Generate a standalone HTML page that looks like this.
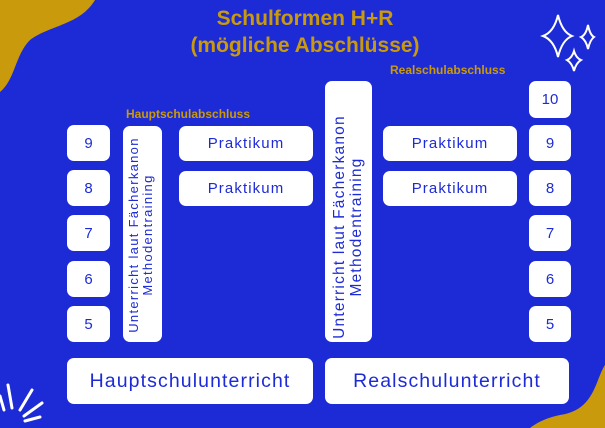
<!DOCTYPE html>
<html><head><meta charset="utf-8"><style>
body{margin:0;width:605px;height:428px;overflow:hidden;background:#1d2bd6;position:relative;font-family:"Liberation Sans","DejaVu Sans",sans-serif}
.b{position:absolute;background:#fff;border-radius:7px;color:#1d2bd6;display:flex;align-items:center;justify-content:center}
.n{font-size:15px}
.p{font-size:15px;letter-spacing:1.1px}
.g{position:absolute;color:#c99a0c;font-weight:bold;white-space:nowrap}
.v{position:absolute;transform:rotate(-90deg);transform-origin:center;text-align:center;color:#1d2bd6;white-space:nowrap;line-height:1.1}
</style></head><body>
<svg width="605" height="428" style="position:absolute;left:0;top:0">
<path d="M0 0 L95 0 C80 25 50 25 30 40 C15 55 15 80 0 92 Z" fill="#c99a0c"/>
<path d="M605 365 C595 380 595 410 560 415 C545 418 535 424 530 428 L605 428 Z" fill="#c99a0c"/>
<g fill="none" stroke="#fff" stroke-width="2">
<path d="M558 15 Q562 32 572 36 Q562 40 558 57 Q554 40 543 36 Q554 32 558 15Z"/>
<path d="M588 25 Q590 35 594 37 Q590 40 588 49 Q586 40 581 37 Q586 35 588 25Z"/>
<path d="M574 51 Q576 58 581 60 Q576 63 574 71 Q572 63 567 60 Q572 58 574 51Z"/>
</g>
<g stroke="#fff" stroke-width="3" stroke-linecap="round">
<line x1="8" y1="385" x2="12" y2="408"/>
<line x1="32" y1="390" x2="20" y2="410"/>
<line x1="42" y1="403" x2="24" y2="416"/>
<line x1="40" y1="417" x2="25" y2="421"/>
<line x1="0" y1="396" x2="4" y2="410"/>
</g>
</svg>
<div class="g" style="left:0;width:610px;text-align:center;top:5px;font-size:21px;line-height:27px">Schulformen H+R<br>(mögliche Abschlüsse)</div>
<div class="g" style="left:390px;top:63px;font-size:12px">Realschulabschluss</div>
<div class="g" style="left:126px;top:107px;font-size:12px">Hauptschulabschluss</div>

<div class="b n" style="left:67px;top:125px;width:43px;height:36px">9</div>
<div class="b n" style="left:67px;top:170px;width:43px;height:36px">8</div>
<div class="b n" style="left:67px;top:215px;width:43px;height:36px">7</div>
<div class="b n" style="left:67px;top:261px;width:43px;height:36px">6</div>
<div class="b n" style="left:67px;top:306px;width:43px;height:36px">5</div>

<div class="b n" style="left:529px;top:81px;width:42px;height:37px">10</div>
<div class="b n" style="left:529px;top:125px;width:42px;height:36px">9</div>
<div class="b n" style="left:529px;top:170px;width:42px;height:36px">8</div>
<div class="b n" style="left:529px;top:215px;width:42px;height:36px">7</div>
<div class="b n" style="left:529px;top:261px;width:42px;height:36px">6</div>
<div class="b n" style="left:529px;top:306px;width:42px;height:36px">5</div>

<div class="b" style="left:123px;top:126px;width:39px;height:216px"></div>
<div class="v" style="left:32px;top:220px;width:220px;height:30px;font-size:13px;letter-spacing:1.3px">Unterricht laut Fächerkanon<br>Methodentraining</div>
<div class="b" style="left:325px;top:81px;width:47px;height:261px"></div>
<div class="v" style="left:228px;top:210px;width:240px;height:34px;font-size:15.5px;letter-spacing:1.2px">Unterricht laut Fächerkanon<br>Methodentraining</div>

<div class="b p" style="left:179px;top:126px;width:134px;height:35px">Praktikum</div>
<div class="b p" style="left:179px;top:171px;width:134px;height:35px">Praktikum</div>
<div class="b p" style="left:383px;top:126px;width:134px;height:35px">Praktikum</div>
<div class="b p" style="left:383px;top:171px;width:134px;height:35px">Praktikum</div>

<div class="b" style="left:67px;top:358px;width:246px;height:46px;font-size:19.5px;letter-spacing:1.1px">Hauptschulunterricht</div>
<div class="b" style="left:325px;top:358px;width:244px;height:46px;font-size:19.5px;letter-spacing:1.1px">Realschulunterricht</div>
</body></html>
